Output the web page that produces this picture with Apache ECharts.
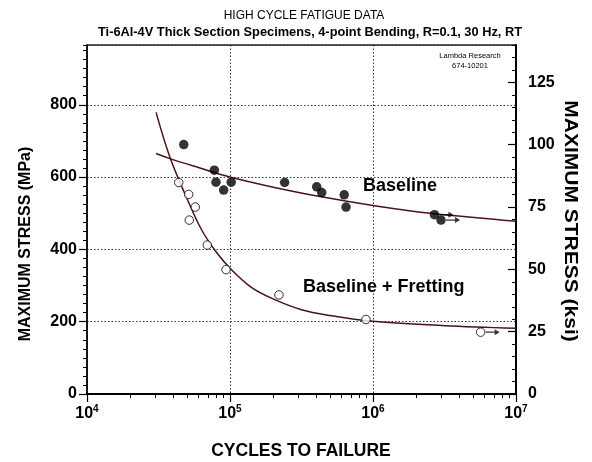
<!DOCTYPE html>
<html>
<head>
<meta charset="utf-8">
<script src="https://cdn.jsdelivr.net/npm/echarts@6/dist/echarts.min.js"></script>
<style>
html,body{margin:0;padding:0;background:#fff;}
#chart{width:592px;height:462px;}
</style>
</head>
<body>
<div id="chart"></div>
<script>
// ---- Data ----
var baselineN = [47500, 77700, 79800, 90300, 102000, 241000, 404000, 438000, 629000, 648000];
var baselineS = [690, 619, 586, 564, 586, 585, 573, 557, 551, 517];
var baselineRunoutN = [2690000, 2990000];
var baselineRunoutS = [496, 481];

var frettingN = [43800, 51400, 57200, 51900, 69400, 93800, 220000, 893000];
var frettingS = [585, 552, 517, 481, 412, 344, 274, 206];
var frettingRunoutN = [5660000];
var frettingRunoutS = [171];

var baselineFitN = [30400, 38000, 61600, 100000, 190000, 426000, 1050000, 2510000, 10000000];
var baselineFitS = [665, 651, 625, 600, 574, 546, 520, 500, 478];

var frettingFitN = [30400, 38000, 50100, 63100, 79400, 100000, 141000, 200000, 316000, 501000, 1000000, 3160000, 10000000];
var frettingFitS = [779, 655, 540, 455, 395, 348, 295, 263, 233, 217, 201, 189, 182];

var xMajorExps = [4, 5, 6, 7];
var xMinorTicks = [2e4,3e4,4e4,5e4,6e4,7e4,8e4,9e4, 2e5,3e5,4e5,5e5,6e5,7e5,8e5,9e5, 2e6,3e6,4e6,5e6,6e6,7e6,8e6,9e6];
var yMPaLabels = [0, 200, 400, 600, 800];
var yKsiLabels = [0, 25, 50, 75, 100, 125];
var KSI_MAX = 140;
var MPA_PER_KSI = 6.89476;

function zip(a, b) { return a.map(function (v, i) { return [v, b[i]]; }); }

var FONT = 'Liberation Sans, Arial, Helvetica, sans-serif';
var curveColor = '#4a1414';

var chart = echarts.init(document.getElementById('chart'), null, {renderer: 'canvas'});

var arrowPath = 'path://M0,3.2H9V0.5L14,4L9,7.5V4.8H0Z';

var option = {
  animation: false,
  backgroundColor: '#fff',
  grid: {left: 87, right: 76, top: 45, bottom: 68, show: true, borderColor: '#222', borderWidth: 1.5, backgroundColor: 'transparent'},
  xAxis: [
    {
      type: 'log', logBase: 10, min: 1e4, max: 1e7, position: 'bottom', gridIndex: 0,
      axisLine: {show: true, lineStyle: {color: '#000', width: 2}},
      axisTick: {show: true, length: 8, lineStyle: {color: '#000', width: 1.2}},
      splitLine: {show: true, lineStyle: {color: '#333', type: [1.5, 2], width: 1}},
      minorTick: {show: false},
      axisLabel: {
        margin: 10,
        formatter: function (v) {
          var e = Math.round(Math.log10(v));
          return xMajorExps.indexOf(e) >= 0 ? '{b|10}{s|' + e + '}' : '';
        },
        rich: {
          b: {fontSize: 16, fontWeight: 'bold', fontFamily: FONT, color: '#000'},
          s: {fontSize: 10, fontWeight: 'bold', fontFamily: FONT, color: '#000', padding: [0, 0, 9, 0]}
        }
      }
    },
    {
      type: 'log', logBase: 10, min: 1e4, max: 1e7, position: 'bottom', gridIndex: 0,
      axisLine: {show: false},
      axisTick: {show: true, length: 4, customValues: xMinorTicks, lineStyle: {color: '#000', width: 1}},
      axisLabel: {show: false},
      splitLine: {show: false}
    }
  ],
  yAxis: [
    {
      type: 'value', min: 0, max: KSI_MAX * MPA_PER_KSI, interval: 200, position: 'left', gridIndex: 0,
      axisLine: {show: true, lineStyle: {color: '#000', width: 1.5}},
      axisTick: {show: true, length: 8, lineStyle: {color: '#000', width: 1.2}},
      splitLine: {show: true, lineStyle: {color: '#333', type: [1.5, 2], width: 1}},
      axisLabel: {
        margin: 10, showMaxLabel: false, fontSize: 16, fontWeight: 'bold', fontFamily: FONT, color: '#000',
        formatter: function (v) { return yMPaLabels.indexOf(v) >= 0 ? String(v) : ''; }
      }
    },
    {
      type: 'value', min: 0, max: KSI_MAX * MPA_PER_KSI, interval: 25, position: 'left', gridIndex: 0,
      axisLine: {show: false},
      axisTick: {show: true, length: 4, lineStyle: {color: '#000', width: 1}},
      axisLabel: {show: false},
      splitLine: {show: false}
    },
    {
      type: 'value', min: 0, max: KSI_MAX, interval: 25, position: 'right', gridIndex: 0,
      axisLine: {show: true, lineStyle: {color: '#000', width: 2}},
      axisTick: {show: true, inside: true, length: 8, lineStyle: {color: '#000', width: 1.2}},
      splitLine: {show: false},
      axisLabel: {
        margin: 12, showMaxLabel: false, fontSize: 16, fontWeight: 'bold', fontFamily: FONT, color: '#000',
        formatter: function (v) { return yKsiLabels.indexOf(v) >= 0 ? String(v) : ''; }
      }
    },
    {
      type: 'value', min: 0, max: KSI_MAX, interval: 5, position: 'right', gridIndex: 0,
      axisLine: {show: false},
      axisTick: {show: true, inside: true, length: 4, lineStyle: {color: '#000', width: 1}},
      axisLabel: {show: false},
      splitLine: {show: false}
    }
  ],
  series: [
    {
      type: 'line', name: 'Baseline fit', data: zip(baselineFitN, baselineFitS),
      smooth: 0.4, showSymbol: false, lineStyle: {color: curveColor, width: 1.5}, z: 2
    },
    {
      type: 'line', name: 'Fretting fit', data: zip(frettingFitN, frettingFitS),
      smooth: 0.35, showSymbol: false, lineStyle: {color: curveColor, width: 1.5}, z: 2
    },
    {
      type: 'scatter', name: 'Runout arrows',
      data: zip(baselineRunoutN, baselineRunoutS).concat(zip(frettingRunoutN, frettingRunoutS)),
      symbol: arrowPath, symbolSize: [14, 6], symbolOffset: [12, 0],
      itemStyle: {color: '#000'}, z: 3
    },
    {
      type: 'scatter', name: 'Baseline',
      data: zip(baselineN, baselineS).concat(zip(baselineRunoutN, baselineRunoutS)),
      symbol: 'circle', symbolSize: 9.5, itemStyle: {color: '#000'}, z: 4
    },
    {
      type: 'scatter', name: 'Baseline + Fretting',
      data: zip(frettingN, frettingS).concat(zip(frettingRunoutN, frettingRunoutS)),
      symbol: 'circle', symbolSize: 8.5, itemStyle: {color: '#fff', borderColor: '#000', borderWidth: 1}, z: 4
    }
  ],
  graphic: [
    {type: 'text', x: 304, y: 16, style: {text: 'HIGH CYCLE FATIGUE DATA', font: '12px ' + FONT, fill: '#000', textAlign: 'center', textVerticalAlign: 'middle'}},
    {type: 'text', x: 310, y: 32, style: {text: 'Ti-6Al-4V Thick Section Specimens, 4-point Bending, R=0.1, 30 Hz, RT', font: 'bold 12.8px ' + FONT, fill: '#000', textAlign: 'center', textVerticalAlign: 'middle'}},
    {type: 'text', x: 470, y: 56, style: {text: 'Lambda Research', font: '7.5px ' + FONT, fill: '#000', textAlign: 'center', textVerticalAlign: 'middle'}},
    {type: 'text', x: 470, y: 66, style: {text: '674-10201', font: '7.5px ' + FONT, fill: '#000', textAlign: 'center', textVerticalAlign: 'middle'}},
    {type: 'text', x: 363, y: 186, style: {text: 'Baseline', font: 'bold 18px ' + FONT, fill: '#000', textAlign: 'left', textVerticalAlign: 'middle'}},
    {type: 'text', x: 303, y: 287, style: {text: 'Baseline + Fretting', font: 'bold 18px ' + FONT, fill: '#000', textAlign: 'left', textVerticalAlign: 'middle'}},
    {type: 'text', x: 301, y: 451, style: {text: 'CYCLES TO FAILURE', font: 'bold 17.5px ' + FONT, fill: '#000', textAlign: 'center', textVerticalAlign: 'middle'}},
    {type: 'text', x: 26, y: 244, rotation: Math.PI / 2, style: {text: 'MAXIMUM STRESS (MPa)', font: 'bold 16px ' + FONT, fill: '#000', textAlign: 'center', textVerticalAlign: 'middle'}},
    {type: 'text', x: 570, y: 221, rotation: -Math.PI / 2, scaleX: 1.2, style: {text: 'MAXIMUM STRESS (ksi)', font: 'bold 17.5px ' + FONT, fill: '#000', textAlign: 'center', textVerticalAlign: 'middle'}}
  ]
};
chart.setOption(option);
</script>
</body>
</html>
